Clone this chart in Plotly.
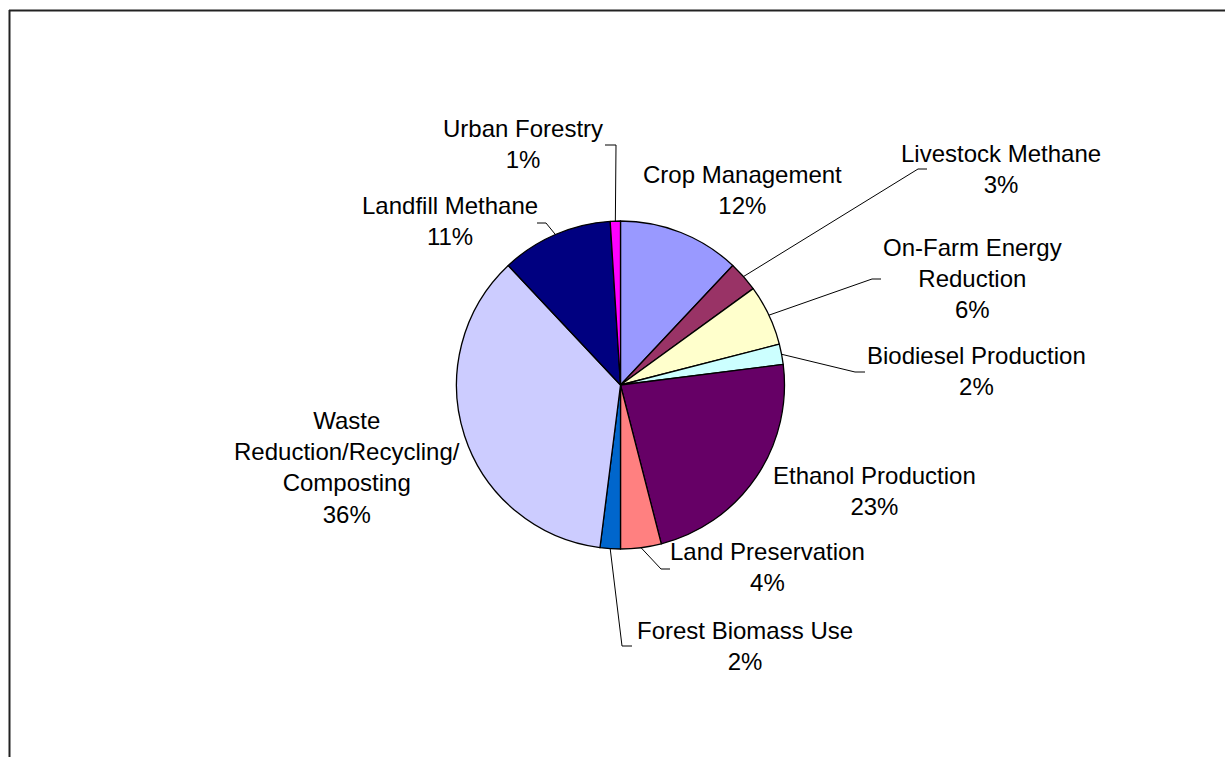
import math
import plotly.graph_objects as go

# Share of emissions reductions by strategy
categories = [
    "Crop Management",
    "Livestock Methane",
    "On-Farm Energy Reduction",
    "Biodiesel Production",
    "Ethanol Production",
    "Land Preservation",
    "Forest Biomass Use",
    "Waste Reduction/Recycling/Composting",
    "Landfill Methane",
    "Urban Forestry",
]
shares = [12, 3, 6, 2, 23, 4, 2, 36, 11, 1]

# Label text broken over lines as displayed
label_lines = {
    "Crop Management": ["Crop Management"],
    "Livestock Methane": ["Livestock Methane"],
    "On-Farm Energy Reduction": ["On-Farm Energy", "Reduction"],
    "Biodiesel Production": ["Biodiesel Production"],
    "Ethanol Production": ["Ethanol Production"],
    "Land Preservation": ["Land Preservation"],
    "Forest Biomass Use": ["Forest Biomass Use"],
    "Waste Reduction/Recycling/Composting": ["Waste", "Reduction/Recycling/", "Composting"],
    "Landfill Methane": ["Landfill Methane"],
    "Urban Forestry": ["Urban Forestry"],
}

colors = ["#9999FF", "#993366", "#FFFFCC", "#CCFFFF", "#660066",
          "#FF8080", "#0066CC", "#CCCCFF", "#000080", "#FF00FF"]

# ---- layout (pixel units) ----
W, H = 1225, 757
CX, CY, R = 620.5, 385.0, 164.0

# label block centres
label_pos = {
    "Crop Management": (743, 189.5),
    "Livestock Methane": (1001, 168.5),
    "On-Farm Energy Reduction": (972, 278.5),
    "Biodiesel Production": (976, 371),
    "Ethanol Production": (874, 491),
    "Land Preservation": (767, 567),
    "Forest Biomass Use": (745, 645.5),
    "Waste Reduction/Recycling/Composting": (347, 467),
    "Landfill Methane": (450, 221),
    "Urban Forestry": (523, 143.5),
}

# leader lines: elbow point, then end of short horizontal run
leaders = {
    "Urban Forestry": ((616, 145), (605, 145)),
    "Landfill Methane": ((546, 223), (537, 223)),
    "Livestock Methane": ((918, 169), (927, 169)),
    "On-Farm Energy Reduction": ((872, 279), (881, 279)),
    "Biodiesel Production": ((855, 372), (865, 372)),
    "Land Preservation": ((661, 569), (670, 569)),
    "Forest Biomass Use": ((622, 646), (632, 646)),
}


def px(x):
    return x / W


def py(y):
    return 1 - y / H


FONT = dict(family="Liberation Sans, Arial, sans-serif", size=24, color="#000000")

fig = go.Figure(
    go.Pie(
        labels=categories,
        values=shares,
        sort=False,
        direction="clockwise",
        rotation=0,
        marker=dict(colors=colors, line=dict(color="#000000", width=1.3)),
        textinfo="none",
        hoverinfo="label+percent",
        showlegend=False,
        domain=dict(x=[px(CX - R), px(CX + R)], y=[py(CY + R), py(CY - R)]),
    )
)

total = sum(shares)
cum = 0.0
annotations = []
shapes = []
for name, val in zip(categories, shares):
    mid = (cum + val / 2) / total * 2 * math.pi
    cum += val
    pct = round(val / total * 100)
    text = "<br>".join(label_lines[name] + [f"{pct}%"])
    lx, ly = label_pos[name]
    annotations.append(dict(
        x=px(lx), y=py(ly), xref="paper", yref="paper",
        text=text, showarrow=False, align="center",
        xanchor="center", yanchor="middle", font=FONT,
    ))
    if name in leaders:
        sx = CX + R * math.sin(mid)
        sy = CY - R * math.cos(mid)
        (ex, ey), (fx, fy) = leaders[name]
        path = (f"M {px(sx)},{py(sy)} L {px(ex)},{py(ey)} "
                f"L {px(fx)},{py(fy)}")
        shapes.append(dict(type="path", xref="paper", yref="paper",
                           path=path, line=dict(color="#000000", width=1)))

# chart frame: top and left edges (the rest runs off the page)
frame = dict(color="#222222", width=2)
shapes.append(dict(type="line", xref="paper", yref="paper",
                   x0=px(9), x1=1.0, y0=py(10.5), y1=py(10.5), line=frame))
shapes.append(dict(type="line", xref="paper", yref="paper",
                   x0=px(9.5), x1=px(9.5), y0=py(10), y1=0.0, line=frame))

fig.update_layout(
    width=W, height=H,
    margin=dict(l=0, r=0, t=0, b=0),
    paper_bgcolor="#FFFFFF",
    plot_bgcolor="#FFFFFF",
    annotations=annotations,
    shapes=shapes,
)

fig.write_html("out.html")
